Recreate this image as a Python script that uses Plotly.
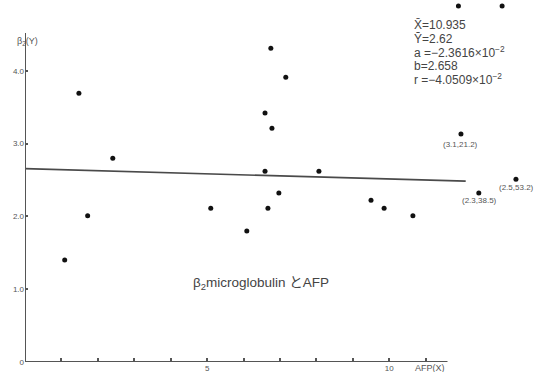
import plotly.graph_objects as go

# Data
afp_x = [1.09, 1.48, 1.72, 2.41, 5.10, 6.09, 6.59, 6.59, 6.67, 6.75, 6.78, 6.97,
         7.16, 8.07, 9.50, 9.86, 10.65, 11.97, 12.46, 13.48, 11.90, 13.10]
b2m_y = [1.40, 3.69, 2.01, 2.80, 2.11, 1.80, 3.42, 2.62, 2.11, 4.31, 3.21, 2.32,
         3.91, 2.62, 2.22, 2.11, 2.01, 3.13, 2.32, 2.51, 4.89, 4.89]

reg_x = [0.0, 12.1]
reg_y = [2.656, 2.484]

y_tick_vals = [0, 1, 2, 3, 4]
y_tick_text = ["0", "1.0", "2.0", "3.0", "4.0"]
x_tick_vals = [5, 10]
x_tick_text = ["5", "10"]
x_minor_vals = [1, 2, 3, 4, 6, 7, 8, 9, 11]

stats_lines = ["X\u0304=10.935", "Y\u0304=2.62", "a =\u22122.3616\u00d710<sup>\u22122</sup>",
               "b=2.658", "r =\u22124.0509\u00d710<sup>\u22122</sup>"]
outlier_labels = ["(3.1,21.2)", "(2.3,38.5)", "(2.5,53.2)"]

W, H = 540, 372
L, B = 25.3, 10.3
XR = (W - L) / 36.4
YR = (H - B) / 72.75

FONT = "Liberation Sans, Arial, Noto Sans CJK JP, sans-serif"
GRAY = "#555555"

fig = go.Figure()
fig.add_trace(go.Scatter(x=reg_x, y=reg_y, mode="lines",
                         line=dict(color="#4a4a4a", width=1.6), hoverinfo="skip"))
fig.add_trace(go.Scatter(x=afp_x, y=b2m_y, mode="markers",
                         marker=dict(color="#111111", size=5), cliponaxis=False))

# axes lines
fig.add_shape(type="line", xref="x", yref="y", x0=0, x1=11.6, y0=0, y1=0,
              line=dict(color="#555555", width=2))
fig.add_shape(type="line", xref="x", yref="y", x0=0, x1=0, y0=0, y1=4.52,
              line=dict(color="#555555", width=2))

def px2paper(px, py):
    return (px - L) / (W - L), (H - B - py) / (H - B)

ann = []
for i, t in enumerate(stats_lines):
    xp, yp = px2paper(412, [25, 38.5, 52, 65.5, 79][i])
    ann.append(dict(x=xp, y=yp, xref="paper", yref="paper", text=t, showarrow=False,
                    xanchor="left", yanchor="middle", font=dict(size=12, color="#444", family=FONT)))
for t, (px, py) in zip(outlier_labels, [(461, 144), (480, 200), (517, 187)]):
    xp, yp = px2paper(px, py)
    ann.append(dict(x=xp, y=yp, xref="paper", yref="paper", text=t, showarrow=False,
                    xanchor="center", yanchor="middle", font=dict(size=8, color=GRAY, family=FONT)))
xp, yp = px2paper(261, 283)
ann.append(dict(x=xp, y=yp, xref="paper", yref="paper", text="\u03b2<sub>2</sub>microglobulin \u3068AFP",
                showarrow=False, xanchor="center", yanchor="middle",
                font=dict(size=13.5, color="#444", family=FONT)))
xp, yp = px2paper(430, 368)
ann.append(dict(x=xp, y=yp, xref="paper", yref="paper", text="AFP(X)", showarrow=False,
                xanchor="center", yanchor="middle", font=dict(size=9, color=GRAY, family=FONT)))
xp, yp = px2paper(28, 41)
ann.append(dict(x=xp, y=yp, xref="paper", yref="paper", text="\u03b2<sub>2</sub>(Y)", showarrow=False,
                xanchor="center", yanchor="middle", font=dict(size=9, color=GRAY, family=FONT)))

fig.update_layout(
    width=W, height=H,
    margin=dict(l=L, r=0, t=0, b=B, autoexpand=False),
    paper_bgcolor="white", plot_bgcolor="white",
    showlegend=False,
    annotations=ann,
    xaxis=dict(range=[0, XR], showgrid=False, zeroline=False, showline=False,
               tickvals=x_tick_vals, ticktext=x_tick_text, ticks="inside", ticklen=4,
               tickcolor="#555", tickwidth=1.5,
               minor=dict(tickvals=x_minor_vals, ticks="inside", ticklen=4,
                          tickcolor="#555", tickwidth=1.5),
               tickfont=dict(size=8, color=GRAY, family=FONT)),
    yaxis=dict(range=[0, YR], showgrid=False, zeroline=False, showline=False,
               tickvals=y_tick_vals, ticktext=y_tick_text, ticks="inside", ticklen=3,
               tickcolor="#555", tickwidth=1.5,
               tickfont=dict(size=8, color=GRAY, family=FONT)),
)

fig.write_html("out.html", config={"displayModeBar": False},
               post_script="document.body.style.margin='0';")
